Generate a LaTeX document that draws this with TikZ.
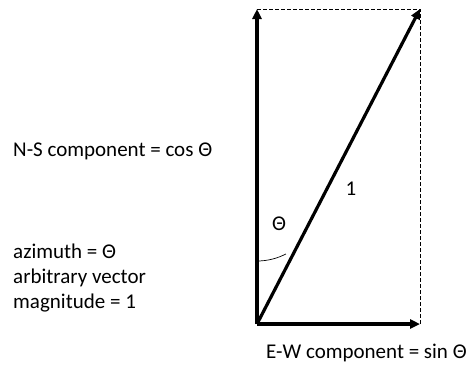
\documentclass[tikz,border=0pt]{standalone}
\usepackage{fontspec}
\setmainfont{Carlito}
\usetikzlibrary{arrows.meta}
\begin{document}
\begin{tikzpicture}[x=1pt,y=-1pt,
  vec/.style={line width=3.2pt,-{Triangle[length=10pt,width=9pt]}},
  guide/.style={line width=0.9pt,dash pattern=on 4pt off 2pt},
  lbl/.style={font=\fontsize{21}{25}\selectfont,inner sep=0pt,anchor=west,align=left}]
\useasboundingbox (0,0) rectangle (469,365);
\coordinate (O) at (257,324);
\coordinate (N) at (257,9);
\coordinate (E) at (420,324);
\coordinate (P) at (420,9);
\draw[guide] (N) -- (P) -- (E);
\draw[vec] (O) -- (N);
\draw[vec] (O) -- (E);
\draw[vec] (O) -- (P);
\draw[line width=0.7pt] (257,261) arc[start angle=90,end angle={atan2(315,163)},radius=63];
\node[font=\fontsize{21}{24}\selectfont] (th) at (279,224) {Θ};
\node[font=\fontsize{21}{24}\selectfont] (one) at (351,189) {1};
\node[lbl] (ns) at (13,151) {N-S component = cos Θ};
\node[lbl] (az) at (13,278) {azimuth = Θ\\arbitrary vector\\magnitude = 1};
\node[lbl] (ew) at (266,353) {E-W component = sin Θ};
\end{tikzpicture}
\end{document}
